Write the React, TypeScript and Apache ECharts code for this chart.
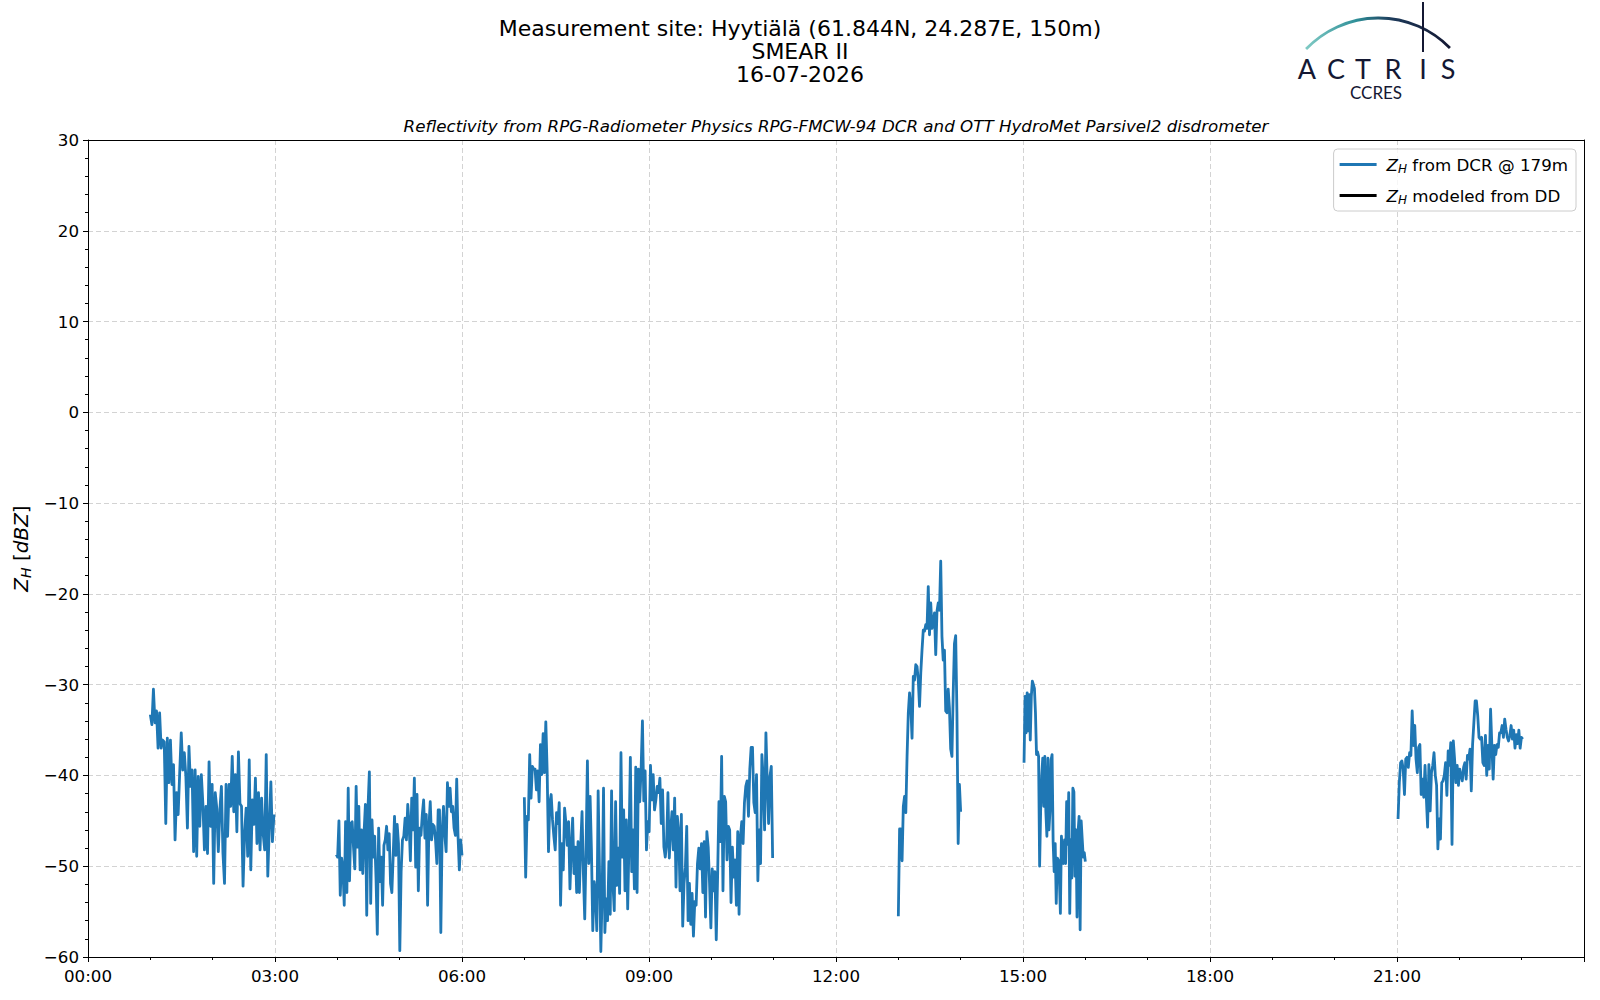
import React, { useEffect, useRef } from "react";
import * as echarts from "echarts";

// ---------------- data ----------------
const TITLE_LINES = ["Measurement site: Hyytiälä (61.844N, 24.287E, 150m)", "SMEAR II", "16-07-2026"];
const SUBTITLE = "Reflectivity from RPG-Radiometer Physics RPG-FMCW-94 DCR and OTT HydroMet Parsivel2 disdrometer";
const SERIES_DCR = "ZH from DCR @ 179m";
const SERIES_DD = "ZH modeled from DD";

const X_MIN = 0; // minutes of day
const X_MAX = 1440;
const X_STEP = 180;
const Y_MIN = -60;
const Y_MAX = 30;
const Y_STEP = 10;

const segmentStarts = ["01:00", "03:59", "07:00", "13:00", "15:01", "21:01"];
const segmentEnds = ["02:59", "06:00", "10:59", "14:00", "16:00", "23:01"];

const seg1Values = [-33.3, -34.4, -30.5, -34.2, -32.9, -37.0, -33.1, -37.0, -36.1, -36.3, -45.3, -35.9, -40.8, -36.1, -41.0, -38.8, -47.1, -41.9, -44.3, -39.7, -35.3, -39.4, -37.5, -40.1, -45.8, -36.8, -41.2, -39.4, -48.4, -39.4, -48.9, -40.1, -45.6, -39.9, -43.1, -48.2, -43.4, -48.6, -38.5, -45.6, -41.0, -51.9, -41.9, -43.6, -48.4, -43.8, -41.2, -48.6, -51.9, -41.0, -46.7, -41.0, -43.4, -37.9, -44.0, -39.9, -46.2, -37.4, -43.1, -43.4, -52.2, -46.4, -43.6, -48.9, -38.3, -50.4, -42.7, -45.4, -40.3, -47.5, -41.9, -48.2, -42.5, -46.4, -48.2, -37.7, -51.1, -45.6, -40.7, -47.3, -44.3];

const seg2Values = [-48.7, -49.0, -45.0, -53.2, -49.1, -50.1, -54.3, -45.1, -52.9, -41.4, -51.6, -45.3, -45.1, -47.9, -50.3, -41.2, -47.9, -43.4, -50.4, -46.0, -50.8, -46.2, -43.2, -55.4, -43.4, -39.6, -54.1, -44.9, -49.0, -46.7, -51.2, -57.5, -45.8, -51.7, -49.0, -54.3, -47.7, -47.1, -45.6, -48.2, -46.4, -51.9, -52.9, -48.8, -44.5, -48.8, -45.4, -47.5, -59.3, -50.6, -47.1, -46.7, -44.7, -47.1, -43.2, -45.3, -49.4, -42.5, -46.0, -40.3, -50.1, -42.1, -52.7, -45.8, -46.6, -44.3, -42.7, -46.9, -44.3, -54.3, -45.6, -42.9, -47.1, -45.4, -45.6, -47.1, -49.7, -43.8, -43.8, -57.3, -46.2, -43.4, -46.6, -48.4, -40.8, -43.4, -41.4, -44.0, -43.4, -45.8, -46.6, -40.4, -46.7, -50.4, -47.1, -48.8];

const seg3Values = [-42.4, -51.2, -44.5, -44.9, -37.7, -42.5, -39.0, -39.3, -39.3, -41.6, -39.5, -42.9, -36.6, -39.9, -35.4, -39.7, -34.1, -39.5, -48.4, -43.0, -42.1, -44.9, -46.7, -48.2, -44.1, -45.3, -43.0, -54.3, -47.5, -50.4, -43.6, -45.3, -47.7, -45.1, -52.5, -47.9, -44.7, -50.8, -47.9, -52.9, -47.3, -52.9, -47.7, -44.0, -50.8, -55.8, -48.0, -38.4, -49.7, -42.3, -48.2, -57.1, -51.7, -53.0, -57.1, -41.7, -50.4, -59.4, -52.9, -41.4, -57.3, -53.6, -56.0, -49.5, -55.3, -41.7, -51.9, -54.9, -42.9, -52.1, -48.0, -53.0, -37.5, -49.0, -43.8, -52.7, -44.9, -54.7, -47.3, -38.0, -50.6, -46.0, -52.5, -39.1, -52.9,
  -39.3, -42.9, -39.3, -34.0, -42.8, -39.5, -48.2, -45.1, -46.2, -38.9, -42.7, -39.9, -43.8, -42.7, -41.2, -41.9, -40.3, -45.3, -41.6, -47.9, -49.0, -47.5, -41.9, -49.1, -46.0, -44.0, -48.2, -42.5, -52.3, -44.5, -46.2, -52.7, -44.3, -56.6, -51.9, -50.1, -45.6, -56.0, -51.9, -56.4, -53.0, -57.7, -53.9, -54.3, -49.7, -48.0, -50.3, -47.5, -52.9, -47.3, -55.6, -46.2, -47.9, -51.9, -56.8, -50.3, -52.7, -50.6, -58.1, -51.2, -42.9, -47.3, -37.9, -52.7, -42.3, -42.9, -49.3, -45.6, -46.0, -54.0, -47.9, -51.2, -49.3, -54.3, -46.2, -55.3, -46.7, -45.1, -47.5, -43.0, -41.2, -40.6, -44.5, -39.3, -36.9, -36.9, -43.0, -44.1, -39.9, -51.6, -46.0, -49.7, -37.7, -40.4, -46.0, -35.3, -40.7, -45.3, -40.1, -39.0, -49.1];

const seg4Values = [-55.5, -45.9, -45.9, -49.4, -43.4, -42.3, -44.1, -37.9, -33.1, -30.9, -32.4, -35.9, -29.1, -29.5, -27.8, -28.0, -29.5, -32.4, -28.7, -26.2, -24.0, -24.1, -23.4, -23.8, -19.2, -24.5, -21.0, -23.8, -23.2, -22.1, -26.7, -21.9, -21.0, -21.8, -16.4, -24.7, -27.3, -26.2, -32.9, -33.1, -30.5, -32.6, -37.1, -37.9, -31.0, -25.5, -24.6, -33.0, -47.5, -41.0, -44.0];

const seg5Values = [-38.6, -31.3, -35.3, -30.9, -35.1, -31.1, -36.1, -31.3, -29.6, -30.0, -30.4, -33.1, -37.7, -37.4, -37.9, -50.0, -43.8, -40.1, -38.1, -43.4, -37.9, -44.0, -46.7, -38.1, -46.0, -43.8, -38.3, -37.7, -47.3, -50.6, -47.5, -54.1, -49.1, -49.3, -51.3, -55.2, -46.7, -49.3, -49.7, -47.1, -49.7, -42.9, -47.6, -41.9, -55.2, -47.1, -51.3, -41.4, -41.8, -51.1, -46.0, -55.6, -46.2, -44.5, -57.0, -45.0, -47.0, -49.0, -48.5, -49.5];

const seg6Values = [-44.8, -40.8, -38.6, -38.4, -39.3, -42.1, -38.2, -38.0, -39.1, -37.5, -37.8, -32.9, -36.7, -34.5, -38.2, -39.7, -36.9, -36.6, -42.1, -40.4, -42.4, -38.9, -42.4, -45.7, -38.8, -43.9, -39.7, -38.9, -37.5, -40.0, -41.1, -48.1, -44.8, -47.0, -40.8, -40.6, -40.0, -38.6, -42.2, -37.3, -38.9, -36.4, -47.6, -36.2, -38.2, -40.8, -38.9, -41.1, -39.3, -40.0, -40.6, -39.1, -38.6, -40.4, -37.8, -38.2, -37.1, -41.7, -36.6, -34.2, -31.8, -31.8, -33.4, -35.8, -36.0, -35.8, -38.6, -38.9, -35.6, -40.0, -36.7, -39.3, -32.7, -36.7, -40.4, -36.7, -37.7, -36.6, -36.9, -35.3, -35.3, -34.5, -35.8, -33.8, -34.9, -35.8, -36.2, -35.6, -34.5, -36.0, -35.0, -37.0, -35.5, -36.5, -35.0, -37.0, -35.8, -36.0];

const segmentValues = [seg1Values, seg2Values, seg3Values, seg4Values, seg5Values, seg6Values];

// ---------------- style ----------------
const FONT = "DejaVu Sans";
const BLUE = "#1f77b4";
const NAVY = "#141833";
const GRID_COLOR = "#d3d3d3";
const TICK_FS = 16.7;

const toMin = (s: string) => {
  const [h, m] = s.split(":").map(Number);
  return h * 60 + m;
};
const fmtTime = (v: number) => {
  if (v >= 1440) return "";
  const h = Math.floor(v / 60);
  const m = Math.round(v % 60);
  return String(h).padStart(2, "0") + ":" + String(m).padStart(2, "0");
};
const fmtY = (v: number) => (v < 0 ? "\u2212" + Math.abs(v) : String(v));

const richBase = (size: number, lh: number) => ({
  i: { fontFamily: FONT, fontStyle: "italic", fontSize: size, lineHeight: lh, color: "#000", verticalAlign: "middle" },
  s: { fontFamily: FONT, fontStyle: "italic", fontSize: Math.round(size * 0.7), lineHeight: Math.round(lh * 0.6), color: "#000", verticalAlign: "bottom" },
  t: { fontFamily: FONT, fontSize: size, lineHeight: lh, color: "#000", verticalAlign: "middle" },
  g: { width: 5, fontSize: size, lineHeight: lh },
});

export default function App() {
  const ref = useRef<HTMLDivElement>(null);

  useEffect(() => {
    if (!ref.current) return;
    const chart = echarts.init(ref.current, undefined, { renderer: "svg" });

    const lineSeries = segmentValues.map((vals, k) => {
      const s = toMin(segmentStarts[k]);
      const e = toMin(segmentEnds[k]);
      const data = vals.map((v, i) => [s + ((e - s) * i) / (vals.length - 1), v]);
      return {
        type: "line",
        name: SERIES_DCR,
        data,
        symbol: "none",
        showSymbol: false,
        silent: true,
        lineStyle: { color: BLUE, width: 2.8, join: "round" },
        itemStyle: { color: BLUE },
        emphasis: { disabled: true },
        z: 3,
      };
    });

    const option: any = {
      animation: false,
      backgroundColor: "#ffffff",
      grid: { left: 88, top: 140, width: 1496, height: 817, containLabel: false },
      legend: {
        orient: "vertical",
        right: 24,
        top: 149,
        data: [
          { name: SERIES_DCR, icon: "rect" },
          { name: SERIES_DD, icon: "rect" },
        ],
        itemWidth: 37,
        itemHeight: 2.8,
        itemGap: 10,
        padding: [5, 8, 5, 6],
        borderColor: "#cccccc",
        borderWidth: 1,
        borderRadius: 4,
        backgroundColor: "rgba(255,255,255,0.8)",
        selectedMode: false,
        formatter: (name: string) =>
          name === SERIES_DCR ? "{g| }{i|Z}{s|H}{t| from DCR @ 179m}" : "{g| }{i|Z}{s|H}{t| modeled from DD}",
        textStyle: { fontFamily: FONT, fontSize: TICK_FS, color: "#000", lineHeight: 21, rich: richBase(TICK_FS, 21) },
      },
      xAxis: [
        {
          type: "value",
          min: X_MIN,
          max: X_MAX,
          interval: X_STEP,
          position: "bottom",
          axisLine: { show: true, onZero: false, lineStyle: { color: "#000", width: 1 } },
          axisTick: { show: true, length: 5, lineStyle: { color: "#000", width: 1 } },
          minorTick: { show: true, splitNumber: 3, length: 3, lineStyle: { color: "#000", width: 1 } },
          axisLabel: { formatter: fmtTime, fontFamily: FONT, fontSize: TICK_FS, color: "#000", margin: 10 },
          splitLine: { show: true, lineStyle: { color: GRID_COLOR, type: [5, 3], width: 1 } },
        },
        {
          type: "value",
          min: X_MIN,
          max: X_MAX,
          position: "top",
          axisLine: { show: true, onZero: false, lineStyle: { color: "#000", width: 1 } },
          axisTick: { show: false },
          axisLabel: { show: false },
          splitLine: { show: false },
        },
      ],
      yAxis: [
        {
          type: "value",
          min: Y_MIN,
          max: Y_MAX,
          interval: Y_STEP,
          position: "left",
          name: "{i|Z}{s|H}{t| [}{i|dBZ}{t|]}",
          nameLocation: "middle",
          nameRotate: 90,
          nameGap: 54,
          nameTextStyle: { fontFamily: FONT, fontSize: 20, color: "#000", rich: richBase(20, 24) },
          axisLine: { show: true, onZero: false, lineStyle: { color: "#000", width: 1 } },
          axisTick: { show: true, length: 5, lineStyle: { color: "#000", width: 1 } },
          minorTick: { show: true, splitNumber: 5, length: 3, lineStyle: { color: "#000", width: 1 } },
          axisLabel: { formatter: fmtY, fontFamily: FONT, fontSize: TICK_FS, color: "#000", margin: 9 },
          splitLine: { show: true, lineStyle: { color: GRID_COLOR, type: [5, 3], width: 1 } },
        },
        {
          type: "value",
          min: Y_MIN,
          max: Y_MAX,
          position: "right",
          axisLine: { show: true, onZero: false, lineStyle: { color: "#000", width: 1 } },
          axisTick: { show: false },
          axisLabel: { show: false },
          splitLine: { show: false },
        },
      ],
      series: [
        ...lineSeries,
        {
          type: "line",
          name: SERIES_DD,
          data: [],
          symbol: "none",
          lineStyle: { color: "#000", width: 2.8 },
          itemStyle: { color: "#000" },
        },
      ],
      graphic: [
        {
          type: "text",
          x: 800,
          y: 51.5,
          style: {
            text: TITLE_LINES.join("\n"),
            fontFamily: FONT,
            fontSize: 22,
            lineHeight: 23,
            fill: "#000",
            align: "center",
            verticalAlign: "middle",
          },
        },
        {
          type: "text",
          x: 836,
          y: 126,
          style: {
            text: SUBTITLE,
            fontFamily: FONT,
            fontSize: 16.7,
            fontStyle: "italic",
            fill: "#000",
            align: "center",
            verticalAlign: "middle",
          },
        },
        {
          type: "arc",
          shape: { cx: 1378.5, cy: 118, r: 100, startAngle: -2.381, endAngle: -0.775, clockwise: true },
          style: {
            fill: null,
            lineWidth: 2.8,
            stroke: new echarts.graphic.LinearGradient(0, 0, 1, 0, [
              { offset: 0, color: "#7fcac4" },
              { offset: 0.35, color: "#2f8f98" },
              { offset: 0.6, color: "#1d3a5a" },
              { offset: 1, color: NAVY },
            ]),
          },
        },
        {
          type: "line",
          shape: { x1: 1423, y1: 2, x2: 1423, y2: 52 },
          style: { stroke: NAVY, lineWidth: 2 },
        },
        ...[
          ["A", 1307],
          ["C", 1336],
          ["T", 1363],
          ["R", 1393],
          ["I", 1423],
          ["S", 1448],
        ].map(([ch, x]) => ({
          type: "text",
          x: x as number,
          y: 68,
          style: {
            text: ch as string,
            fontFamily: "Lato",
            fontSize: 27,
            fill: NAVY,
            align: "center",
            verticalAlign: "middle",
          },
        })),
        {
          type: "text",
          x: 1376,
          y: 92.5,
          style: {
            text: "CCRES",
            fontFamily: "Lato",
            fontSize: 17,
            fill: NAVY,
            align: "center",
            verticalAlign: "middle",
          },
        },
      ],
    };

    chart.setOption(option);
    return () => chart.dispose();
  }, []);

  return (
    <div
      ref={ref}
      style={{ position: "fixed", left: 0, top: 0, width: 1600, height: 1000, background: "#fff" }}
    />
  );
}
